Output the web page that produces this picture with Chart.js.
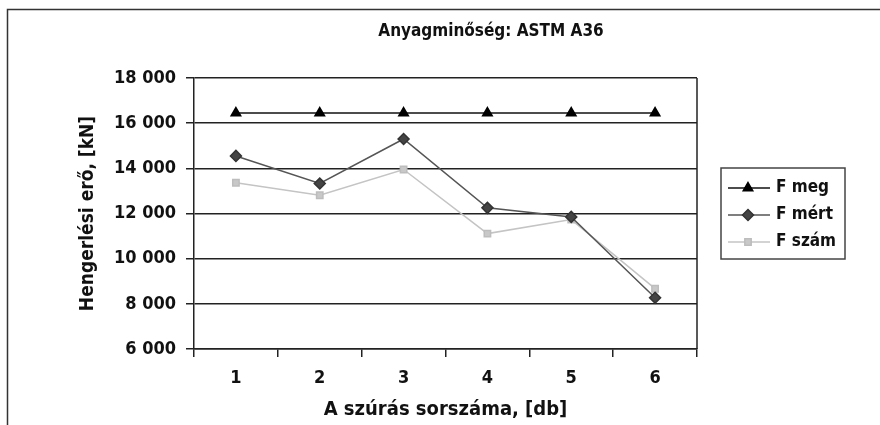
<!DOCTYPE html>
<html>
<head>
<meta charset="utf-8">
<script src="https://cdn.jsdelivr.net/npm/chart.js@4.4.1/dist/chart.umd.min.js"></script>
<style>
  html, body { margin: 0; padding: 0; background: #fff; }
  #wrap { width: 880px; height: 425px; }
</style>
</head>
<body>
<div id="wrap"><canvas id="myChart" width="880" height="425"></canvas></div>
<script>
let labels = ['1', '2', '3', '4', '5', '6'];
let fMeg  = [16450, 16450, 16450, 16450, 16450, 16450];
let fMert = [14550, 13330, 15300, 12250, 11850, 8270];
let fSzam = [13360, 12810, 13950, 11110, 11730, 8670];
let seriesNames = ['F meg', 'F mért', 'F szám'];

const FONT = '"DejaVu Sans Condensed", "DejaVu Sans", sans-serif';

function formatThousands(v){
    return String(v).replace(/\B(?=(\d{3})+(?!\d))/g, ' ');
}

const decorations = {
    id: 'decorations',
    afterDraw(chart){
        const ctx = chart.ctx;
        const area = chart.chartArea;
        ctx.save();
        // outer frame
        ctx.strokeStyle = '#333';
        ctx.lineWidth = 1.5;
        ctx.beginPath();
        ctx.moveTo(7.5, 425);
        ctx.lineTo(7.5, 9.5);
        ctx.lineTo(880, 9.5);
        ctx.stroke();
        // plot right border
        ctx.strokeStyle = '#222';
        ctx.beginPath();
        ctx.moveTo(area.right, area.top);
        ctx.lineTo(area.right, area.bottom);
        ctx.stroke();
        // title
        ctx.fillStyle = '#111';
        ctx.font = 'bold 17px ' + FONT;
        ctx.textAlign = 'center';
        ctx.textBaseline = 'middle';
        ctx.fillText('Anyagminőség: ASTM A36', 491, 32);
        // legend
        ctx.strokeStyle = '#444';
        ctx.lineWidth = 1.5;
        ctx.strokeRect(721, 168, 124, 91);
        const rows = [188, 215, 242];
        chart.data.datasets.forEach((ds, i) => {
            const y = rows[i];
            ctx.strokeStyle = ds.borderColor;
            ctx.lineWidth = ds.borderWidth;
            ctx.beginPath();
            ctx.moveTo(728, y);
            ctx.lineTo(770, y);
            ctx.stroke();
            ctx.fillStyle = ds.pointBackgroundColor;
            ctx.strokeStyle = ds.pointBorderColor;
            Chart.helpers.drawPoint(ctx, {
                pointStyle: ds.pointStyle,
                radius: ds.pointRadius,
                rotation: 0,
                borderWidth: 1
            }, 748, y);
            ctx.fillStyle = '#111';
            ctx.font = 'bold 17px ' + FONT;
            ctx.textAlign = 'left';
            ctx.textBaseline = 'middle';
            ctx.fillText(ds.label, 776, y);
        });
        ctx.restore();
    }
};

function createChart(){
    const ctx = document.getElementById('myChart');
    new Chart(ctx, {
        type: 'line',
        data: {
            labels: labels,
            datasets: [
                {
                    label: seriesNames[0],
                    data: fMeg,
                    borderColor: '#111',
                    borderWidth: 1.5,
                    pointStyle: 'triangle',
                    pointRadius: 5.5,
                    pointBackgroundColor: '#000',
                    pointBorderColor: '#000'
                },
                {
                    label: seriesNames[1],
                    data: fMert,
                    borderColor: '#555',
                    borderWidth: 1.5,
                    pointStyle: 'rectRot',
                    pointRadius: 5.5,
                    pointBackgroundColor: '#444',
                    pointBorderColor: '#333'
                },
                {
                    label: seriesNames[2],
                    data: fSzam,
                    borderColor: '#c4c4c4',
                    borderWidth: 1.5,
                    pointStyle: 'rect',
                    pointRadius: 4.5,
                    pointBackgroundColor: '#c8c8c8',
                    pointBorderColor: '#bdbdbd'
                }
            ]
        },
        options: {
            responsive: false,
            animation: false,
            layout: {
                padding: { left: 70, right: 183, top: 78, bottom: 0 }
            },
            plugins: {
                legend: { display: false },
                title: { display: false },
                tooltip: { enabled: false }
            },
            scales: {
                x: {
                    offset: true,
                    afterFit: (scale) => { scale.height = 76; },
                    grid: {
                        offset: true,
                        drawOnChartArea: false,
                        color: '#222',
                        lineWidth: 1.5,
                        tickLength: 8
                    },
                    border: { color: '#222', width: 1.5 },
                    ticks: {
                        color: '#111',
                        padding: 11,
                        font: { family: FONT, size: 18, weight: 'bold' }
                    },
                    title: {
                        display: true,
                        text: 'A szúrás sorszáma, [db]',
                        color: '#111',
                        padding: { top: 0, bottom: 3 },
                        font: { family: FONT, size: 20, weight: 'bold' }
                    }
                },
                y: {
                    min: 6000,
                    max: 18000,
                    afterFit: (scale) => { scale.width = 124; },
                    grid: {
                        color: '#222',
                        lineWidth: 1.5,
                        tickLength: 8
                    },
                    border: { color: '#222', width: 1.5 },
                    ticks: {
                        stepSize: 2000,
                        color: '#111',
                        padding: 10,
                        font: { family: FONT, size: 18, weight: 'bold' },
                        callback: (v) => formatThousands(v)
                    },
                    title: {
                        display: true,
                        text: 'Hengerlési erő, [kN]',
                        color: '#111',
                        padding: { top: 7, bottom: 0 },
                        font: { family: FONT, size: 19, weight: 'bold' }
                    }
                }
            }
        },
        plugins: [decorations]
    });
}

createChart();
</script>
</body>
</html>
